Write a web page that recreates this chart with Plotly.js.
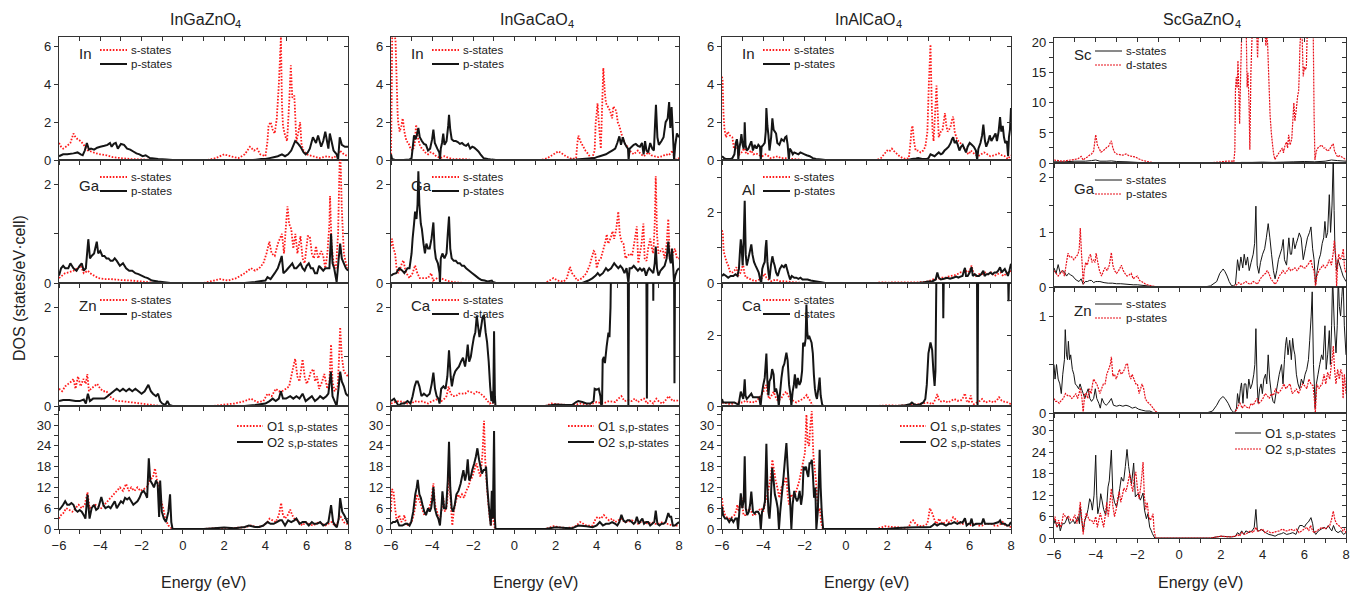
<!DOCTYPE html>
<html><head><meta charset="utf-8">
<script src="https://cdn.plot.ly/plotly-3.0.1.min.js"></script>
<style>html,body{margin:0;padding:0;background:#fff;}#chart{width:1358px;height:595px;}</style>
</head><body><div id="chart"></div>
<script>
// ---------- DATA (pairs: energy eV, DOS) ----------
const compounds = [['InGaZnO','4'],['InGaCaO','4'],['InAlCaO','4'],['ScGaZnO','4']];
const energyTicks = [-6,-4,-2,0,2,4,6,8];

// InGaZnO4
const IGZ_In_s=[-6,0.9,-5.9,0.7,-5.8,0.6,-5.6,0.75,-5.45,0.9,-5.3,1.4,-5.2,1.2,-5.1,1.1,-4.95,1.0,-4.8,0.8,-4.6,0.5,-4.45,0.45,-4.2,0.35,-4.0,0.3,-3.7,0.25,-3.4,0.15,-3.0,0.1,-2.5,0.05,-2.0,0.03,-1.5,0.01,-1.0,0,1.2,0,1.6,0.1,2.0,0.3,2.3,0.2,2.7,0.1,3.0,0.3,3.25,0.7,3.45,0.5,3.6,0.6,3.75,0.3,4.0,0.2,4.1,1.0,4.15,1.8,4.25,2.0,4.35,1.6,4.45,1.4,4.55,2.2,4.65,4.0,4.75,6.5,4.8,3.0,4.85,1.8,4.95,1.3,5.05,1.0,5.15,3.0,5.23,5.0,5.3,3.3,5.4,3.4,5.5,1.0,5.6,1.5,5.68,2.0,5.75,0.8,5.85,0.5,6.0,0.3,6.3,0.2,6.6,0.1,7.0,0.2,7.3,0.1,7.5,0.3,7.6,0.5,7.8,0.3,8.0,0.2];
const IGZ_In_p=[-6,0.2,-5.8,0.3,-5.6,0.3,-5.3,0.35,-5.1,0.4,-4.95,0.3,-4.85,0.25,-4.75,0.5,-4.65,0.9,-4.55,0.55,-4.45,0.6,-4.3,0.55,-4.15,0.65,-4.0,0.7,-3.8,0.75,-3.65,0.8,-3.53,0.9,-3.45,0.7,-3.35,0.85,-3.25,0.9,-3.15,0.6,-3.0,0.85,-2.85,0.8,-2.7,0.6,-2.55,0.55,-2.4,0.45,-2.25,0.35,-2.1,0.3,-1.95,0.2,-1.8,0.25,-1.6,0.1,-1.4,0.08,-1.2,0.05,-0.8,0.02,-0.5,0,3.4,0,3.8,0.05,4.0,0.05,4.2,0.1,4.4,0.15,4.6,0.2,4.8,0.3,4.95,0.2,5.1,0.3,5.25,0.5,5.44,1.0,5.55,0.9,5.7,0.7,5.85,0.4,5.95,0.3,6.05,0.4,6.15,0.6,6.3,1.2,6.45,0.9,6.55,1.3,6.7,0.7,6.8,1.0,6.9,1.5,7.0,0.9,7.05,0.6,7.12,1.4,7.2,1.0,7.3,0.5,7.45,0.3,7.52,0.0,7.6,1.2,7.7,0.8,7.85,0.7,8.0,0.7];
const IGZ_Ga_s=[-6,0.1,-5.85,0.15,-5.7,0.2,-5.5,0.22,-5.3,0.25,-5.1,0.3,-4.95,0.35,-4.8,0.2,-4.6,0.25,-4.5,0.2,-4.3,0.15,-4.1,0.1,-3.8,0.08,-3.5,0.08,-3.0,0.06,-2.5,0.05,-2.0,0.03,-1.5,0.01,-1.2,0,1.0,0,1.5,0.05,1.8,0.08,2.2,0.05,2.6,0.1,3.0,0.2,3.3,0.3,3.5,0.25,3.7,0.3,3.9,0.4,4.05,0.6,4.19,0.84,4.3,0.6,4.45,0.55,4.6,0.8,4.8,1.0,4.9,0.6,5.0,1.2,5.07,1.56,5.15,1.2,5.25,1.1,5.35,0.7,5.45,1.0,5.55,0.6,5.7,0.95,5.8,0.5,5.9,0.4,6.05,0.95,6.15,0.95,6.25,0.6,6.35,0.5,6.45,0.75,6.55,0.5,6.7,0.65,6.8,0.55,6.9,0.3,7.0,0.6,7.1,1.2,7.13,1.77,7.2,0.8,7.3,0.4,7.42,0.3,7.52,1.0,7.58,2.2,7.62,2.8,7.7,1.5,7.8,0.6,7.9,0.4,8.0,0.3];
const IGZ_Ga_p=[-6,0.15,-5.9,0.3,-5.8,0.35,-5.7,0.3,-5.55,0.3,-5.45,0.4,-5.3,0.3,-5.15,0.25,-5.0,0.35,-4.9,0.4,-4.8,0.25,-4.7,0.3,-4.58,0.89,-4.5,0.5,-4.42,0.55,-4.3,0.6,-4.17,0.84,-4.1,0.6,-4.0,0.65,-3.9,0.55,-3.8,0.55,-3.7,0.5,-3.6,0.5,-3.5,0.45,-3.4,0.45,-3.3,0.5,-3.2,0.45,-3.05,0.35,-2.9,0.4,-2.75,0.3,-2.6,0.25,-2.45,0.25,-2.3,0.2,-2.15,0.18,-2.0,0.15,-1.85,0.12,-1.7,0.1,-1.5,0.05,-1.2,0.03,-1.0,0.02,-0.6,0,3.0,0,3.5,0.02,3.8,0.04,4.0,0.05,4.1,0.12,4.25,0.08,4.45,0.2,4.6,0.3,4.72,0.45,4.79,0.55,4.87,0.2,5.0,0.25,5.1,0.3,5.2,0.35,5.3,0.4,5.4,0.3,5.5,0.3,5.6,0.35,5.7,0.4,5.8,0.3,5.9,0.25,6.0,0.35,6.1,0.4,6.2,0.3,6.3,0.3,6.4,0.2,6.5,0.2,6.6,0.35,6.7,0.3,6.8,0.25,6.9,0.3,7.0,0.3,7.1,0.3,7.18,1.0,7.25,0.4,7.33,0.3,7.45,0.02,7.55,0.5,7.62,0.8,7.7,0.5,7.8,0.4,7.9,0.3,8.0,0.25];
const IGZ_Zn_s=[-6,0.35,-5.85,0.3,-5.7,0.4,-5.55,0.45,-5.4,0.5,-5.3,0.55,-5.2,0.35,-5.08,0.6,-4.95,0.4,-4.82,0.55,-4.7,0.45,-4.63,0.65,-4.55,0.3,-4.45,0.35,-4.3,0.4,-4.15,0.45,-4.0,0.35,-3.85,0.3,-3.7,0.3,-3.55,0.2,-3.4,0.15,-3.2,0.1,-3.0,0.1,-2.6,0.08,-2.0,0.05,-1.5,0.02,-1.0,0,1.5,0,2.0,0.03,2.5,0.05,3.0,0.1,3.3,0.15,3.6,0.08,3.9,0.1,4.1,0.25,4.3,0.2,4.5,0.35,4.65,0.3,4.8,0.3,5.0,0.35,5.15,0.4,5.3,0.7,5.44,0.96,5.55,0.6,5.65,0.5,5.8,0.95,5.9,0.6,6.0,0.45,6.1,0.55,6.2,0.7,6.33,0.75,6.4,0.5,6.5,0.6,6.6,0.35,6.75,0.5,6.85,0.65,7.0,0.35,7.1,0.5,7.18,1.25,7.25,0.5,7.35,0.3,7.5,0.4,7.56,0.9,7.62,1.6,7.7,1.0,7.8,0.7,8.0,0.6];
const IGZ_Zn_p=[-6,0.1,-5.8,0.12,-5.5,0.12,-5.2,0.1,-5.0,0.1,-4.8,0.13,-4.7,0.05,-4.6,0.25,-4.5,0.1,-4.35,0.15,-4.2,0.15,-4.0,0.15,-3.8,0.15,-3.65,0.2,-3.5,0.25,-3.35,0.3,-3.2,0.35,-3.05,0.3,-2.9,0.35,-2.75,0.3,-2.6,0.35,-2.45,0.3,-2.3,0.35,-2.15,0.3,-2.0,0.25,-1.85,0.3,-1.67,0.43,-1.55,0.3,-1.45,0.25,-1.3,0.2,-1.2,0.25,-1.1,0.1,-1.0,0.05,-0.85,0.02,-0.75,0.1,-0.65,0.02,-0.5,0,3.0,0,3.5,0.02,4.0,0.05,4.2,0.1,4.35,0.15,4.5,0.1,4.65,0.15,4.75,0.3,4.85,0.15,5.0,0.15,5.2,0.2,5.35,0.15,5.5,0.2,5.65,0.15,5.8,0.25,5.95,0.1,6.1,0.15,6.25,0.2,6.4,0.1,6.55,0.15,6.65,0.2,6.8,0.15,6.95,0.2,7.05,0.25,7.17,0.7,7.25,0.2,7.35,0.1,7.45,0.0,7.55,0.4,7.62,0.7,7.7,0.5,7.8,0.4,7.9,0.25,8.0,0.2];
const IGZ_O1=[-6,3,-5.9,4,-5.8,4.5,-5.65,6,-5.5,5.5,-5.35,5,-5.2,6,-5.05,7,-4.9,6,-4.75,7,-4.62,10.6,-4.52,6,-4.4,6.5,-4.25,7,-4.1,6.5,-3.95,6,-3.8,7,-3.65,8,-3.5,9,-3.35,10,-3.2,11,-3.05,12,-2.9,11,-2.75,13,-2.62,11,-2.5,12,-2.35,11,-2.2,12,-2.05,11,-1.9,11.5,-1.75,12,-1.6,14,-1.45,15,-1.35,17.5,-1.25,14,-1.15,12,-1.05,8,-0.95,6,-0.85,3,-0.7,1,-0.55,0.2,-0.45,0,1.0,0,1.5,0.2,2.0,0.3,2.5,0.3,3.0,0.5,3.3,1.0,3.6,0.5,3.9,1.0,4.1,2.0,4.2,3.0,4.35,2.5,4.5,2.0,4.65,4.0,4.76,7.5,4.85,4.0,4.95,3.0,5.08,4.0,5.2,5.6,5.3,4.0,5.4,3.0,5.55,2.5,5.7,1.5,5.8,1.0,5.95,2.0,6.1,1.5,6.3,1.0,6.45,1.5,6.6,2.0,6.75,1.5,6.9,1.0,7.05,1.5,7.2,2.0,7.35,1.0,7.48,1.5,7.6,4.0,7.7,3.0,7.8,2.0,7.9,1.5,8.0,1.5];
const IGZ_O2=[-6,5.5,-5.92,6,-5.8,7,-5.7,8,-5.6,7,-5.5,7,-5.4,7.5,-5.3,7,-5.2,5.5,-5.1,5,-5.0,5.5,-4.9,5,-4.8,4,-4.72,3,-4.62,9.9,-4.52,3,-4.42,6,-4.3,7,-4.2,5.5,-4.1,6,-3.95,9.2,-3.85,7,-3.75,6,-3.6,6.5,-3.5,6,-3.4,7,-3.3,8,-3.2,6,-3.1,7,-3.0,8,-2.9,7.5,-2.8,9,-2.7,8.5,-2.6,9,-2.5,8,-2.4,7,-2.3,7.5,-2.2,8,-2.1,9,-2.0,10.5,-1.9,11,-1.8,10,-1.73,9,-1.65,20.4,-1.58,14,-1.48,13,-1.4,12,-1.3,14,-1.22,13,-1.15,3.5,-1.1,14,-1.02,5,-0.92,3,-0.82,2,-0.7,5,-0.62,10,-0.56,2,-0.5,0,1.0,0,1.5,0.2,2.0,0.4,2.5,0.2,3.0,0.6,3.2,1.0,3.5,0.6,3.7,0.6,3.9,1.0,4.1,2.0,4.25,1.5,4.4,1.5,4.55,2.0,4.7,2.5,4.8,2.5,4.95,1.0,5.1,2.5,5.25,2.0,5.4,2.5,5.5,3.0,5.65,1.5,5.8,2.0,5.95,2.0,6.1,1.0,6.25,2.0,6.35,1.5,6.5,1.5,6.65,2.0,6.8,1.0,6.95,1.5,7.05,2.0,7.18,6.9,7.28,2.0,7.38,1.0,7.46,0.5,7.55,3.0,7.62,8.9,7.72,5.0,7.82,4.0,7.9,3.0,8.0,1.5];

// InGaCaO4
const IGC_In_s=[-6,0.3,-5.97,3.0,-5.94,6.8,-5.85,6.8,-5.78,6.3,-5.72,4.0,-5.68,2.5,-5.65,2.0,-5.58,1.5,-5.5,1.8,-5.43,2.2,-5.35,1.5,-5.25,1.0,-5.15,0.9,-5.05,0.6,-4.95,0.5,-4.85,0.8,-4.78,1.87,-4.7,1.2,-4.6,0.8,-4.5,0.6,-4.4,0.5,-4.3,0.35,-4.2,0.3,-4.1,0.4,-4.0,0.4,-3.9,0.3,-3.8,0.2,-3.6,0.1,-3.4,0.2,-3.3,0.15,-3.0,0.05,-2.5,0.05,-2.0,0,1.3,0,1.6,0.1,1.9,0.3,2.14,0.46,2.3,0.35,2.5,0.2,2.8,0.05,3.0,0.1,3.05,0.8,3.11,1.29,3.2,1.0,3.3,0.8,3.45,0.5,3.6,0.3,3.75,0.02,3.9,0.5,3.95,2.0,4.0,2.48,4.04,3.0,4.1,2.0,4.2,0.6,4.27,3.0,4.32,4.86,4.4,3.5,4.45,3.0,4.55,2.8,4.65,2.6,4.75,2.2,4.81,2.83,4.88,2.7,4.95,2.6,5.02,2.0,5.1,1.8,5.25,1.2,5.4,0.8,5.5,0.7,5.6,0.5,5.8,0.3,6.0,0.5,6.15,0.3,6.3,0.2,6.5,0.4,6.65,0.25,6.8,0.2,7.0,0.15,7.2,0.2,7.35,0.3,7.5,0.25,7.7,0.5,7.78,0.0,7.9,0.05,8.0,0.1];
const IGC_In_p=[-6,0.3,-5.95,0.05,-5.8,0.0,-5.4,0.0,-5.1,0.02,-5.0,0.1,-4.93,0.8,-4.88,1.3,-4.8,1.1,-4.75,1.3,-4.67,1.69,-4.6,1.2,-4.5,1.0,-4.4,0.85,-4.3,0.8,-4.2,0.5,-4.1,0.6,-4.0,1.1,-3.94,1.6,-3.87,0.9,-3.75,0.6,-3.65,0.4,-3.62,0.0,-3.58,0.6,-3.52,0.9,-3.46,1.4,-3.4,0.8,-3.3,1.0,-3.22,1.8,-3.18,2.39,-3.12,1.6,-3.05,1.1,-2.95,1.0,-2.85,1.0,-2.75,0.95,-2.65,0.85,-2.55,0.9,-2.45,0.8,-2.35,0.75,-2.25,0.85,-2.15,0.6,-2.05,0.7,-1.95,0.65,-1.85,0.55,-1.75,0.45,-1.65,0.3,-1.5,0.1,-1.3,0.05,-1.1,0.02,-0.9,0,2.5,0,3.0,0.02,3.3,0.05,3.6,0.08,3.9,0.1,4.0,0.15,4.15,0.2,4.3,0.25,4.45,0.3,4.6,0.4,4.75,0.5,4.9,0.6,5.0,0.9,5.1,1.25,5.18,0.8,5.27,1.2,5.35,0.9,5.45,0.7,5.52,0.6,5.55,0.0,5.6,0.6,5.7,0.7,5.8,0.8,5.9,0.85,6.0,0.75,6.1,0.7,6.2,0.9,6.28,0.3,6.35,1.0,6.42,0.5,6.5,0.4,6.6,0.9,6.7,0.6,6.78,0.5,6.84,2.0,6.88,2.92,6.95,1.2,7.02,0.8,7.15,1.0,7.25,1.2,7.35,2.0,7.45,2.2,7.52,3.06,7.58,1.7,7.64,2.8,7.7,1.5,7.76,0.0,7.82,0.8,7.9,1.4,7.95,1.3,8.0,1.2];
const IGC_Ga_s=[-6,0.75,-5.95,0.9,-5.88,0.7,-5.8,0.6,-5.73,0.3,-5.65,0.2,-5.55,0.3,-5.47,0.4,-5.4,0.46,-5.32,0.3,-5.25,0.2,-5.1,0.1,-4.95,0.2,-4.83,0.36,-4.72,0.2,-4.6,0.1,-4.4,0.1,-4.2,0.1,-4.05,0.2,-3.95,0.05,-3.75,0.1,-3.6,0.1,-3.3,0.05,-3.0,0.02,-2.5,0,1.5,0,1.9,0.1,2.1,0.05,2.4,0.03,2.55,0.1,2.7,0.33,2.8,0.2,2.9,0.15,3.05,0.05,3.3,0.1,3.5,0.2,3.65,0.35,3.75,0.5,3.85,0.65,3.92,0.63,4.0,0.3,4.1,0.45,4.2,0.5,4.3,0.65,4.4,0.8,4.49,0.99,4.55,0.8,4.62,0.85,4.7,0.95,4.77,1.05,4.85,0.9,4.95,1.1,5.05,1.45,5.12,1.0,5.2,0.85,5.3,0.8,5.4,0.5,5.5,0.55,5.62,0.6,5.72,0.55,5.82,0.8,5.95,1.15,6.02,0.4,6.1,0.6,6.18,0.8,6.27,1.21,6.33,0.5,6.42,0.45,6.5,0.7,6.6,0.9,6.68,0.7,6.75,0.6,6.82,1.2,6.87,2.17,6.93,1.0,7.0,0.6,7.1,0.65,7.2,0.7,7.3,0.5,7.4,0.8,7.48,1.3,7.55,0.5,7.62,0.4,7.7,0.6,7.8,0.7,7.9,0.5,8.0,0.5];
const IGC_Ga_p=[-6,0.15,-5.9,0.18,-5.75,0.2,-5.6,0.3,-5.45,0.25,-5.35,0.2,-5.2,0.3,-5.1,0.3,-5.0,0.6,-4.95,0.9,-4.88,1.2,-4.83,1.45,-4.76,1.3,-4.71,1.6,-4.67,2.27,-4.62,1.6,-4.55,1.2,-4.5,1.1,-4.42,0.8,-4.35,0.6,-4.28,0.8,-4.2,0.7,-4.12,0.7,-4.03,0.9,-3.94,1.23,-3.88,0.7,-3.82,0.5,-3.72,0.4,-3.64,0.2,-3.62,0.0,-3.58,0.5,-3.5,0.6,-3.4,0.5,-3.3,0.6,-3.24,1.0,-3.18,1.35,-3.12,0.7,-3.05,0.5,-2.95,0.45,-2.85,0.45,-2.75,0.4,-2.65,0.4,-2.55,0.35,-2.45,0.35,-2.35,0.3,-2.2,0.25,-2.05,0.2,-1.9,0.15,-1.75,0.1,-1.6,0.06,-1.45,0.05,-1.3,0.03,-1.1,0.05,-1.05,0.02,-0.9,0,3.3,0,3.6,0.05,3.8,0.1,3.95,0.15,4.05,0.2,4.15,0.15,4.3,0.2,4.45,0.3,4.55,0.25,4.7,0.3,4.85,0.4,4.95,0.35,5.05,0.3,5.15,0.35,5.25,0.3,5.35,0.2,5.45,0.3,5.54,0.0,5.6,0.3,5.7,0.3,5.8,0.35,5.9,0.3,6.0,0.25,6.1,0.3,6.2,0.25,6.3,0.3,6.4,0.15,6.48,0.25,6.55,0.3,6.65,0.25,6.75,0.2,6.82,0.4,6.87,0.74,6.93,0.3,7.0,0.15,7.1,0.25,7.2,0.3,7.3,0.35,7.4,0.5,7.48,0.84,7.55,0.5,7.6,0.4,7.66,0.7,7.72,0.3,7.76,0.0,7.82,0.15,7.9,0.25,8.0,0.3];
const IGC_Ca_s=[-6,0.05,-5.8,0.08,-5.6,0.1,-5.4,0.08,-5.2,0.05,-5.0,0.05,-4.85,0.1,-4.7,0.08,-4.55,0.1,-4.4,0.08,-4.2,0.05,-4.0,0.1,-3.85,0.12,-3.7,0.15,-3.55,0.1,-3.4,0.15,-3.3,0.2,-3.2,0.4,-3.1,0.25,-3.0,0.2,-2.85,0.2,-2.7,0.25,-2.55,0.25,-2.4,0.25,-2.25,0.3,-2.1,0.28,-1.95,0.25,-1.8,0.3,-1.65,0.25,-1.5,0.2,-1.4,0.15,-1.3,0.1,-1.2,0.05,-1.1,0.08,-1.0,0.05,-0.9,0,1.5,0,1.8,0.05,2.2,0.03,2.6,0.02,3.0,0.03,3.2,0.05,3.5,0.03,3.8,0.05,4.0,0.08,4.3,0.05,4.6,0.1,4.9,0.08,5.05,0.15,5.2,0.2,5.35,0.1,5.5,0.12,5.7,0.1,5.85,0.15,6.0,0.08,6.15,0.12,6.3,0.15,6.45,0.05,6.6,0.1,6.75,0.05,6.9,0.15,7.05,0.08,7.2,0.05,7.35,0.12,7.5,0.2,7.6,0.15,7.7,0.1,7.85,0.12,8.0,0.1];
const IGC_Ca_d=[-6,0.1,-5.85,0.15,-5.7,0.05,-5.62,0.0,-5.5,0.05,-5.35,0.05,-5.2,0.1,-5.05,0.05,-4.95,0.2,-4.85,0.4,-4.77,0.5,-4.7,0.5,-4.62,0.4,-4.52,0.2,-4.4,0.25,-4.25,0.2,-4.12,0.25,-4.02,0.45,-3.94,0.68,-3.86,0.35,-3.78,0.2,-3.7,0.15,-3.64,0.05,-3.56,0.35,-3.45,0.4,-3.35,0.35,-3.26,0.6,-3.18,1.13,-3.1,0.6,-3.04,0.4,-2.96,0.6,-2.88,0.7,-2.8,0.75,-2.7,0.8,-2.6,0.9,-2.5,0.98,-2.4,0.8,-2.33,1.0,-2.27,1.25,-2.2,0.9,-2.12,1.0,-2.05,1.2,-1.97,1.4,-1.9,1.5,-1.83,1.83,-1.76,1.6,-1.7,1.4,-1.62,1.6,-1.55,1.8,-1.48,1.85,-1.4,1.5,-1.33,1.3,-1.25,0.9,-1.18,0.4,-1.12,0.1,-1.07,0.3,-1.03,0.05,-0.99,1.52,-0.95,0.2,-0.92,0,1.5,0,2.0,0.03,2.5,0.02,2.8,0.02,3.0,0.08,3.1,0.1,3.3,0.08,3.5,0.05,3.7,0.05,3.85,0.1,3.9,0.35,4.0,0.33,4.1,0.35,4.18,0.2,4.22,0.0,4.26,0.05,4.29,0.94,4.35,1.0,4.4,0.87,4.48,1.2,4.57,1.49,4.62,1.4,4.67,2.0,4.72,3.5,5.0,4.0,5.5,4.0,5.54,0.0,5.58,4.0,6.4,4.0,6.44,0.15,6.48,4.0,6.72,4.0,6.75,2.14,6.78,4.0,7.75,4.0,7.78,0.46,7.82,4.0,8.0,4.0];
const IGC_O1=[-6,5,-5.96,11.5,-5.88,11,-5.8,6,-5.72,2,-5.6,4,-5.5,2,-5.4,3,-5.35,4,-5.25,1,-5.1,1.5,-5.0,2,-4.9,4,-4.8,7,-4.75,10,-4.68,9,-4.6,8,-4.5,6,-4.38,4,-4.25,5,-4.15,6,-4.05,8,-3.94,13.2,-3.86,7,-3.76,5,-3.65,2,-3.55,5,-3.46,9,-3.38,5,-3.28,7,-3.18,16,-3.1,8,-3.02,1,-2.95,5,-2.85,8,-2.75,10,-2.65,9,-2.55,10,-2.45,9,-2.35,11,-2.25,12,-2.15,14,-2.05,15,-1.95,17,-1.85,19,-1.75,17,-1.65,15,-1.55,22,-1.48,31.2,-1.42,20,-1.36,14,-1.28,8,-1.2,3,-1.14,1,-1.07,5,-1.0,2,-0.95,0,1.5,0,1.9,0.8,2.2,0.5,2.5,0.3,2.9,0.5,3.2,2.0,3.5,1.0,3.8,1.0,3.95,3.0,4.05,3.5,4.2,3.0,4.35,4.0,4.5,3.0,4.6,2.5,4.75,3.0,4.9,2.0,5.05,2.5,5.2,3.0,5.35,2.0,5.5,2.0,5.7,2.5,5.85,2.0,6.0,1.5,6.15,2.0,6.3,2.0,6.5,1.5,6.65,2.0,6.85,1.5,7.0,1.5,7.2,2.0,7.35,1.5,7.5,1.5,7.65,1.0,7.8,1.0,8.0,1.0];
const IGC_O2=[-6,1.5,-5.9,2,-5.8,2,-5.7,2.5,-5.6,1,-5.45,1,-5.3,1.5,-5.2,1.5,-5.1,1,-5.02,2,-4.92,5,-4.82,10,-4.75,12,-4.7,14.2,-4.62,10,-4.55,9,-4.47,7,-4.38,5,-4.3,4,-4.2,6,-4.12,5,-4.05,6,-3.98,9,-3.94,12.1,-3.87,6,-3.78,4,-3.7,3,-3.62,1,-3.55,6,-3.5,10.9,-3.42,6,-3.32,6,-3.24,14,-3.18,25.2,-3.12,12,-3.05,6,-2.98,5,-2.9,7,-2.82,10,-2.72,11,-2.62,13,-2.55,15,-2.48,17,-2.4,14,-2.33,16,-2.27,20.1,-2.2,14,-2.12,15,-2.05,17,-1.95,19,-1.87,21,-1.8,23.3,-1.72,20,-1.65,18,-1.58,16,-1.5,17,-1.42,17,-1.38,18,-1.32,12,-1.25,7,-1.2,4,-1.15,1,-1.1,11,-1.05,3,-0.99,28.3,-0.95,3,-0.92,0,1.5,0,2.0,0.5,2.5,0.3,2.8,0.2,3.1,1.0,3.5,0.8,3.8,0.5,4.0,1.0,4.15,2.0,4.3,1.0,4.45,1.5,4.6,1.5,4.75,2.0,4.9,1.5,5.0,1.0,5.1,2.0,5.2,4.1,5.3,2.5,5.4,2.0,5.5,2.5,5.6,2.5,5.7,2.0,5.8,1.5,5.88,2.0,5.95,3.5,6.05,1.5,6.15,2.5,6.22,3.0,6.3,1.5,6.4,2.0,6.5,2.0,6.6,1.0,6.7,1.5,6.8,2.0,6.87,5.3,6.95,1.5,7.05,1.0,7.15,1.5,7.25,1.5,7.35,2.0,7.48,4.6,7.55,3.5,7.62,3.5,7.7,1.0,7.8,1.0,7.9,1.5,8.0,2.0];

// InAlCaO4
const IAC_In_s=[-6,4.4,-5.97,4.2,-5.93,2.5,-5.88,1.6,-5.8,1.2,-5.72,1.5,-5.62,1.3,-5.5,1.2,-5.42,0.6,-5.33,0.9,-5.25,0.6,-5.15,0.3,-5.05,0.4,-4.98,0.5,-4.92,0.8,-4.85,0.4,-4.78,0.3,-4.68,0.4,-4.58,0.5,-4.48,0.3,-4.35,0.35,-4.2,0.25,-4.05,0.2,-3.9,0.3,-3.8,0.25,-3.65,0.1,-3.45,0.15,-3.3,0.2,-3.15,0.1,-3.0,0.1,-2.5,0.05,-2.0,0,1.5,0,1.7,0.1,1.85,0.3,2.0,0.5,2.1,0.45,2.23,0.6,2.35,0.45,2.45,0.35,2.6,0.2,2.75,0.1,2.9,0.05,3.05,0.1,3.12,0.8,3.18,1.6,3.23,1.81,3.3,1.0,3.38,0.5,3.5,0.5,3.62,0.4,3.75,0.5,3.85,0.7,3.95,1.5,4.02,4.0,4.1,6.1,4.16,3.0,4.2,1.5,4.25,1.0,4.3,2.0,4.35,3.0,4.39,3.93,4.45,2.5,4.5,1.2,4.6,1.5,4.68,1.6,4.74,2.0,4.8,2.48,4.87,1.8,4.93,1.5,5.0,1.6,5.08,1.8,5.14,2.1,5.2,2.3,5.27,1.5,5.35,1.2,5.45,1.0,5.55,0.9,5.65,0.7,5.75,0.6,5.85,0.4,5.95,0.3,6.05,0.5,6.15,0.4,6.25,0.3,6.4,0.2,6.55,0.3,6.7,0.4,6.85,0.3,7.0,0.2,7.2,0.25,7.4,0.35,7.55,0.25,7.7,0.2,7.85,0.05,8.0,0.25];
const IAC_In_p=[-6,0.2,-5.9,0.1,-5.8,0.05,-5.6,0.05,-5.5,0.1,-5.4,0.3,-5.33,0.9,-5.28,1.1,-5.24,0.8,-5.21,0.0,-5.16,0.6,-5.1,1.0,-5.06,1.37,-5.0,0.8,-4.95,0.6,-4.92,1.0,-4.9,1.99,-4.86,0.8,-4.8,0.5,-4.72,0.6,-4.65,0.8,-4.58,0.99,-4.5,0.5,-4.42,0.8,-4.33,0.6,-4.24,0.8,-4.16,0.7,-4.12,0.0,-4.08,0.7,-4.0,0.8,-3.93,0.9,-3.88,1.5,-3.85,2.75,-3.8,1.8,-3.75,1.3,-3.7,0.5,-3.62,1.2,-3.56,2.2,-3.5,1.6,-3.44,1.5,-3.38,1.4,-3.32,0.9,-3.22,0.8,-3.12,1.1,-3.0,1.0,-2.94,1.2,-2.88,1.25,-2.82,0.8,-2.76,0.0,-2.72,0.6,-2.65,0.5,-2.57,0.3,-2.5,0.4,-2.4,0.35,-2.3,0.3,-2.2,0.4,-2.1,0.35,-2.0,0.3,-1.9,0.25,-1.75,0.2,-1.6,0.1,-1.45,0.05,-1.2,0.03,-1.0,0,3.0,0,3.2,0.05,3.4,0.08,3.5,0.1,3.7,0.05,3.9,0.05,4.0,0.1,4.1,0.3,4.2,0.25,4.3,0.2,4.4,0.3,4.5,0.4,4.6,0.3,4.68,0.35,4.78,0.5,4.88,0.6,4.98,0.7,5.08,0.9,5.14,1.1,5.2,1.2,5.27,0.9,5.35,1.0,5.42,0.8,5.5,0.5,5.58,0.7,5.66,0.8,5.74,0.6,5.82,0.4,5.9,0.7,6.0,0.9,6.1,0.8,6.2,0.7,6.3,0.5,6.36,0.0,6.42,0.6,6.52,0.9,6.6,1.3,6.66,1.87,6.74,1.0,6.8,0.7,6.9,1.0,6.97,1.3,7.05,1.0,7.15,1.2,7.25,1.4,7.32,1.0,7.4,1.5,7.47,2.27,7.53,1.5,7.6,1.8,7.66,1.2,7.72,0.9,7.8,1.0,7.86,0.2,7.9,1.2,7.95,1.6,8.0,2.75];
const IAC_Al_s=[-6,1.5,-5.96,1.4,-5.92,0.9,-5.85,0.75,-5.78,0.6,-5.7,0.5,-5.6,0.3,-5.5,0.3,-5.4,0.35,-5.3,0.45,-5.22,0.2,-5.1,0.3,-5.04,0.4,-4.98,0.55,-4.92,0.3,-4.85,0.15,-4.75,0.15,-4.6,0.1,-4.4,0.05,-4.2,0.1,-4.05,0.15,-3.93,0.27,-3.85,0.15,-3.75,0.1,-3.6,0.05,-3.4,0.1,-3.2,0.05,-3.0,0.05,-2.5,0.02,-2.0,0,1.5,0,1.7,0.02,2.0,0.01,2.5,0.02,3.0,0.02,3.5,0.02,3.8,0.03,4.0,0.05,4.2,0.1,4.35,0.12,4.5,0.12,4.65,0.15,4.8,0.15,4.95,0.18,5.1,0.2,5.25,0.22,5.4,0.25,5.55,0.3,5.7,0.3,5.8,0.35,5.9,0.3,6.0,0.35,6.09,0.5,6.17,0.3,6.3,0.2,6.45,0.25,6.6,0.25,6.75,0.3,6.9,0.25,7.05,0.3,7.2,0.2,7.35,0.25,7.5,0.3,7.62,0.2,7.75,0.25,7.88,0.3,8.0,0.35];
const IAC_Al_p=[-6,0.2,-5.92,0.25,-5.8,0.2,-5.7,0.15,-5.58,0.2,-5.45,0.2,-5.35,0.25,-5.25,0.2,-5.18,0.4,-5.13,0.9,-5.09,1.24,-5.04,0.9,-5.0,0.5,-4.95,1.2,-4.9,2.34,-4.85,0.8,-4.8,0.5,-4.72,0.7,-4.65,0.9,-4.58,1.1,-4.52,0.8,-4.45,0.6,-4.38,0.5,-4.3,0.4,-4.22,0.3,-4.15,0.1,-4.1,0.0,-4.05,0.4,-4.0,0.5,-3.93,0.6,-3.89,1.0,-3.85,1.22,-3.8,0.6,-3.75,0.3,-3.7,0.1,-3.63,0.5,-3.56,0.76,-3.5,0.6,-3.45,0.5,-3.38,0.3,-3.3,0.2,-3.2,0.4,-3.1,0.5,-3.0,0.45,-2.91,0.53,-2.85,0.4,-2.78,0.25,-2.7,0.1,-2.62,0.2,-2.5,0.15,-2.4,0.15,-2.3,0.12,-2.2,0.15,-2.1,0.1,-2.0,0.1,-1.85,0.1,-1.7,0.07,-1.5,0.05,-1.2,0.02,-1.0,0,3.5,0,3.8,0.02,4.0,0.04,4.2,0.05,4.35,0.1,4.43,0.3,4.5,0.15,4.6,0.1,4.75,0.12,4.9,0.15,5.05,0.12,5.2,0.15,5.35,0.18,5.45,0.15,5.55,0.18,5.65,0.2,5.72,0.35,5.77,0.43,5.82,0.2,5.9,0.2,6.0,0.3,6.09,0.45,6.15,0.2,6.25,0.25,6.35,0.2,6.45,0.2,6.55,0.25,6.66,0.35,6.72,0.2,6.8,0.25,6.9,0.25,7.0,0.3,7.1,0.25,7.2,0.3,7.3,0.3,7.38,0.35,7.47,0.45,7.55,0.3,7.62,0.35,7.7,0.4,7.78,0.3,7.85,0.2,7.92,0.35,8.0,0.55];
const IAC_Ca_s=[-6,0.1,-5.8,0.08,-5.6,0.05,-5.4,0.08,-5.2,0.1,-5.0,0.1,-4.85,0.15,-4.7,0.1,-4.55,0.12,-4.4,0.1,-4.25,0.2,-4.1,0.3,-4.0,0.4,-3.93,0.53,-3.85,0.6,-3.78,0.3,-3.7,0.2,-3.6,0.3,-3.5,0.4,-3.4,0.25,-3.3,0.15,-3.15,0.2,-3.0,0.35,-2.88,0.41,-2.8,0.3,-2.7,0.2,-2.55,0.15,-2.4,0.1,-2.25,0.15,-2.1,0.2,-1.98,0.25,-1.9,0.31,-1.8,0.2,-1.72,0.15,-1.65,0.05,-1.6,0.0,1.5,0,2.0,0.02,2.5,0.01,3.0,0.02,3.5,0.05,3.8,0.08,4.0,0.1,4.2,0.05,4.35,0.2,4.43,0.34,4.52,0.15,4.65,0.12,4.8,0.15,4.95,0.1,5.1,0.15,5.25,0.2,5.4,0.15,5.55,0.15,5.65,0.2,5.77,0.36,5.85,0.15,5.95,0.1,6.05,0.3,6.12,0.1,6.2,0.05,6.35,0.1,6.5,0.15,6.6,0.2,6.75,0.1,6.9,0.12,7.0,0.15,7.15,0.1,7.3,0.15,7.42,0.25,7.55,0.15,7.7,0.12,7.85,0.1,8.0,0.05];
const IAC_Ca_d=[-6,0.2,-5.95,0.1,-5.8,0.1,-5.6,0.1,-5.4,0.1,-5.25,0.05,-5.2,0.0,-5.15,0.2,-5.09,0.41,-5.03,0.3,-4.97,0.2,-4.93,0.5,-4.9,0.76,-4.86,0.3,-4.8,0.2,-4.72,0.25,-4.65,0.3,-4.58,0.35,-4.5,0.25,-4.4,0.25,-4.3,0.25,-4.2,0.25,-4.13,0.0,-4.08,0.3,-4.0,0.6,-3.93,0.8,-3.85,1.49,-3.8,0.7,-3.75,0.3,-3.7,0.7,-3.63,0.8,-3.57,1.05,-3.5,0.9,-3.45,0.4,-3.38,0.5,-3.3,0.3,-3.25,0.0,-3.2,0.3,-3.12,0.8,-3.05,1.1,-2.98,1.2,-2.92,1.4,-2.88,1.52,-2.82,1.3,-2.75,0.6,-2.68,0.3,-2.64,0.0,-2.58,0.4,-2.52,0.6,-2.47,0.9,-2.4,0.5,-2.33,0.8,-2.25,0.6,-2.18,0.7,-2.12,1.0,-2.07,1.8,-2.0,1.7,-1.95,1.9,-1.91,2.89,-1.87,2.1,-1.83,1.9,-1.78,2.0,-1.72,1.9,-1.66,1.8,-1.6,1.5,-1.55,0.9,-1.5,0.5,-1.45,0.3,-1.4,0.2,-1.33,0.5,-1.27,0.81,-1.22,0.3,-1.15,0.05,-1.1,0,2.5,0,2.9,0.02,3.1,0.05,3.2,0.1,3.3,0.05,3.45,0.02,3.6,0.05,3.75,0.1,3.85,0.2,3.92,0.6,4.0,1.5,4.1,1.81,4.18,1.6,4.24,1.0,4.3,0.57,4.34,1.0,4.39,4.0,4.7,4.0,4.72,2.5,4.75,4.0,6.35,4.0,6.38,0.0,6.41,4.0,7.85,4.0,7.88,2.98,7.92,4.0,8.0,4.0];
const IAC_O1=[-6,8.9,-5.95,6,-5.85,4,-5.72,3,-5.6,3,-5.5,3.5,-5.4,4,-5.3,5.5,-5.26,7,-5.18,5,-5.1,8,-5.04,9,-4.96,4,-4.85,4,-4.75,5,-4.68,6,-4.58,5,-4.5,4,-4.4,4,-4.3,5,-4.2,5.5,-4.1,6,-4.0,5,-3.9,8,-3.8,10,-3.7,13,-3.62,16,-3.56,20,-3.48,17,-3.4,14,-3.32,12,-3.22,9,-3.12,12,-3.0,13,-2.94,14,-2.88,15,-2.82,10,-2.75,7,-2.65,10,-2.55,9,-2.45,10,-2.35,12,-2.25,14,-2.15,17,-2.05,20,-1.98,22,-1.91,33,-1.85,25,-1.78,24,-1.72,30,-1.65,34,-1.58,22,-1.52,18,-1.45,14,-1.38,8,-1.32,5,-1.26,6,-1.2,2,-1.12,0,1.5,0,1.9,0.8,2.2,0.6,2.5,0.5,2.8,0.3,3.05,0.5,3.15,2.0,3.26,2.5,3.38,1.5,3.5,1.0,3.65,0.8,3.8,1.0,3.95,1.5,4.02,4.0,4.07,6.0,4.15,5.0,4.22,4.0,4.3,2.5,4.38,1.5,4.45,2.0,4.52,3.0,4.6,2.0,4.7,1.5,4.82,2.0,4.9,2.5,4.98,2.0,5.05,2.0,5.12,2.5,5.2,3.4,5.28,3.0,5.36,2.5,5.45,2.0,5.55,1.5,5.68,1.5,5.8,2.0,5.92,1.5,6.0,1.0,6.15,1.5,6.3,1.5,6.45,1.0,6.6,1.0,6.75,1.5,6.9,1.5,7.05,1.5,7.2,1.0,7.38,1.0,7.5,1.5,7.6,2.0,7.72,1.0,7.85,1.0,8.0,0.5];
const IAC_O2=[-6,6.5,-5.95,4,-5.85,3,-5.75,3,-5.65,2,-5.55,3,-5.45,2,-5.35,3,-5.27,3,-5.22,0,-5.16,5,-5.09,10.3,-5.02,6,-4.95,8,-4.9,21,-4.85,6,-4.78,4,-4.7,5,-4.64,7,-4.58,10.8,-4.5,5,-4.42,4.5,-4.35,5,-4.25,5,-4.17,4,-4.12,0,-4.06,5,-3.98,6,-3.92,8,-3.85,24.6,-3.8,12,-3.75,5,-3.7,3,-3.64,8,-3.57,17.7,-3.5,14,-3.44,10,-3.36,8,-3.3,6,-3.24,0,-3.18,5,-3.1,10,-3.02,15,-2.95,20,-2.88,24.8,-2.82,18,-2.76,12,-2.7,8,-2.64,0,-2.58,7,-2.5,11,-2.43,9,-2.36,8,-2.3,9,-2.24,11,-2.17,7,-2.1,10,-2.05,18,-1.99,17,-1.93,18,-1.87,16,-1.82,15,-1.76,19,-1.7,19,-1.65,20,-1.6,16,-1.54,9,-1.48,12,-1.43,0,-1.36,5,-1.3,15,-1.27,22.9,-1.22,12,-1.17,5,-1.1,0,2.0,0,2.5,0.3,3.0,0.4,3.5,0.5,3.9,0.5,4.1,0.6,4.2,1.0,4.3,1.5,4.42,1.0,4.55,1.5,4.7,1.5,4.85,1.0,4.98,1.5,5.1,1.5,5.25,2.0,5.4,1.5,5.55,2.0,5.65,1.8,5.77,3.1,5.85,1.0,5.95,1.5,6.02,1.5,6.09,3.0,6.16,1.0,6.3,1.5,6.45,1.5,6.58,1.5,6.66,3.0,6.74,1.5,6.85,1.5,7.0,1.5,7.15,1.5,7.3,1.8,7.4,2.0,7.47,2.5,7.55,1.5,7.7,1.5,7.8,1.0,7.9,1.0,8.0,2.0];

// ScGaZnO4
const SGZ_Sc_s=[-6,0.2,-5.5,0.2,-5.0,0.3,-4.5,0.3,-4.2,0.4,-4.0,0.5,-3.8,0.3,-3.5,0.3,-3.25,0.35,-3.0,0.25,-2.5,0.2,-2.0,0.1,-1.5,0.05,-1.0,0,2.5,0,3.0,0.1,3.5,0.1,4.0,0.15,4.5,0.1,5.0,0.15,5.5,0.2,6.0,0.25,6.5,0.2,7.0,0.3,7.3,0.5,7.6,0.4,8.0,0.3];
const SGZ_Sc_d=[-6,0.5,-5.8,0.4,-5.6,0.3,-5.4,0.4,-5.2,0.5,-5.0,0.6,-4.85,0.7,-4.7,1.1,-4.6,0.5,-4.5,0.8,-4.4,1.0,-4.3,1.3,-4.2,1.5,-4.1,2.0,-4.0,4.7,-3.92,3.0,-3.85,2.5,-3.75,1.8,-3.65,2.0,-3.5,2.5,-3.38,2.8,-3.25,3.7,-3.18,2.5,-3.1,1.8,-3.0,1.5,-2.85,1.4,-2.7,1.3,-2.55,1.5,-2.4,1.2,-2.25,1.1,-2.1,1.0,-1.95,0.7,-1.8,0.5,-1.6,0.3,-1.4,0.15,-1.2,0.05,-1.0,0,1.2,0,1.6,0.05,2.0,0.2,2.3,0.3,2.55,0.3,2.62,0.2,2.67,2.0,2.7,12.2,2.74,14.3,2.78,12.5,2.82,17.0,2.86,12.0,2.9,6.5,2.95,15,3.0,21.5,3.05,25,3.15,25,3.22,21.5,3.26,12.6,3.3,15,3.35,10,3.39,2.2,3.44,15,3.5,21.5,3.6,25,3.72,21.5,3.76,17.5,3.8,21.5,3.9,25,4.05,25,4.12,21.5,4.16,19.5,4.2,21.5,4.24,20,4.3,14,4.36,8,4.42,5,4.48,3,4.53,1.5,4.59,0.6,4.66,1.0,4.75,1.5,4.85,2.0,4.95,2.5,5.0,1.7,5.08,3.0,5.15,3.5,5.2,2.5,5.25,4.7,5.32,3.0,5.4,4.0,5.45,7.0,5.5,10,5.55,7.0,5.62,9.0,5.68,11.1,5.73,12,5.76,15,5.79,19.4,5.83,21.5,5.87,25,5.92,18,5.95,14.4,6.0,16,6.05,15.5,6.1,16,6.14,21.5,6.2,25,6.38,25,6.43,21.5,6.47,8,6.51,0.5,6.58,2.0,6.65,2.5,6.75,2.8,6.83,3.0,6.92,2.5,7.0,2.5,7.1,2.0,7.2,2.2,7.3,2.8,7.39,3.2,7.45,2.0,7.52,1.5,7.6,1.0,7.7,1.2,7.8,1.0,7.9,0.8,8.0,0.5];
const SGZ_Ga_s=[-6,0.35,-5.9,0.25,-5.8,0.41,-5.7,0.25,-5.6,0.3,-5.5,0.28,-5.4,0.2,-5.3,0.25,-5.2,0.22,-5.1,0.2,-5.0,0.15,-4.9,0.12,-4.8,0.1,-4.7,0.15,-4.6,0.05,-4.5,0.1,-4.4,0.1,-4.3,0.12,-4.2,0.12,-4.1,0.08,-4.0,0.1,-3.9,0.1,-3.8,0.1,-3.6,0.08,-3.4,0.07,-3.2,0.07,-3.0,0.06,-2.8,0.06,-2.5,0.05,-2.2,0.04,-2.0,0.04,-1.5,0.02,-1.0,0,1.2,0,1.5,0.02,1.8,0.1,1.95,0.25,2.05,0.3,2.11,0.33,2.2,0.28,2.3,0.2,2.4,0.1,2.5,0.03,2.6,0.02,2.7,0.05,2.8,0.5,2.88,0.3,2.96,0.55,3.05,0.35,3.12,0.6,3.2,0.4,3.28,0.55,3.36,0.3,3.45,0.45,3.55,0.6,3.62,0.8,3.68,1.48,3.74,0.4,3.82,0.25,3.9,0.45,4.0,0.6,4.1,0.7,4.18,0.9,4.27,1.16,4.35,0.9,4.43,0.6,4.52,0.3,4.6,0.15,4.68,0.3,4.76,0.5,4.84,0.6,4.92,0.7,4.99,0.87,5.05,0.5,5.15,0.4,5.26,0.9,5.33,0.6,5.39,0.6,5.47,0.9,5.55,0.7,5.62,0.8,5.7,0.9,5.76,0.99,5.85,0.9,5.95,0.5,6.05,0.7,6.15,0.9,6.25,1.0,6.32,1.1,6.4,0.7,6.47,0.5,6.54,0.05,6.62,0.3,6.7,0.5,6.78,0.6,6.86,0.8,6.93,0.9,6.99,1.2,7.05,0.9,7.12,1.0,7.2,1.69,7.26,1.0,7.33,1.5,7.39,2.4,7.43,1.4,7.47,0.7,7.55,0.3,7.62,0.5,7.7,0.4,7.78,0.3,7.86,0.2,7.93,0.15,8.0,0.1];
const SGZ_Ga_p=[-6,0.3,-5.9,0.25,-5.8,0.2,-5.7,0.25,-5.6,0.3,-5.5,0.2,-5.4,0.45,-5.33,0.62,-5.25,0.55,-5.15,0.55,-5.05,0.5,-4.95,0.55,-4.85,0.6,-4.79,0.7,-4.74,1.08,-4.68,0.6,-4.63,0.3,-4.6,0.05,-4.55,0.3,-4.48,0.45,-4.4,0.4,-4.32,0.55,-4.25,0.6,-4.18,0.45,-4.1,0.5,-4.03,0.45,-3.98,0.62,-3.9,0.45,-3.82,0.3,-3.72,0.2,-3.62,0.3,-3.55,0.35,-3.45,0.3,-3.35,0.4,-3.25,0.63,-3.18,0.4,-3.1,0.3,-3.0,0.25,-2.9,0.3,-2.77,0.4,-2.68,0.3,-2.6,0.25,-2.5,0.2,-2.4,0.22,-2.3,0.25,-2.2,0.15,-2.1,0.18,-2.0,0.2,-1.9,0.12,-1.8,0.1,-1.6,0.05,-1.3,0.02,-1.0,0,2.5,0,2.7,0.02,2.85,0.08,2.95,0.05,3.05,0.06,3.2,0.1,3.3,0.07,3.42,0.05,3.55,0.1,3.65,0.08,3.75,0.05,3.85,0.12,3.95,0.18,4.05,0.22,4.15,0.25,4.22,0.3,4.3,0.25,4.4,0.15,4.5,0.1,4.6,0.05,4.7,0.1,4.8,0.2,4.9,0.25,4.98,0.3,5.08,0.25,5.18,0.3,5.27,0.35,5.35,0.3,5.45,0.32,5.55,0.35,5.65,0.3,5.75,0.35,5.85,0.4,5.95,0.35,6.05,0.35,6.15,0.4,6.25,0.45,6.32,0.5,6.4,0.35,6.47,0.3,6.54,0.0,6.6,0.2,6.7,0.3,6.8,0.35,6.9,0.4,7.0,0.35,7.1,0.4,7.2,0.5,7.3,0.4,7.38,0.6,7.44,0.85,7.5,0.6,7.55,0.0,7.6,0.4,7.65,0.6,7.72,0.5,7.8,0.55,7.87,0.7,7.93,0.35,8.0,0.25];
const SGZ_Zn_s=[-6,0.5,-5.95,0.35,-5.88,0.5,-5.8,0.35,-5.72,0.3,-5.65,0.2,-5.58,0.4,-5.5,0.55,-5.46,0.86,-5.4,0.6,-5.35,0.55,-5.31,0.74,-5.25,0.55,-5.2,0.6,-5.12,0.45,-5.05,0.4,-4.98,0.3,-4.9,0.28,-4.82,0.25,-4.75,0.3,-4.68,0.25,-4.6,0.2,-4.52,0.15,-4.45,0.2,-4.36,0.25,-4.28,0.15,-4.2,0.12,-4.1,0.15,-4.02,0.25,-3.95,0.15,-3.85,0.1,-3.78,0.05,-3.7,0.15,-3.6,0.1,-3.5,0.08,-3.4,0.1,-3.25,0.15,-3.15,0.08,-3.0,0.07,-2.85,0.08,-2.7,0.07,-2.55,0.08,-2.4,0.07,-2.25,0.05,-2.1,0.06,-1.95,0.04,-1.8,0.03,-1.6,0.02,-1.4,0.02,-1.2,0,1.3,0,1.6,0.02,1.8,0.08,1.95,0.14,2.1,0.17,2.2,0.15,2.35,0.1,2.5,0.03,2.65,0.0,2.75,0.05,2.8,0.2,2.87,0.1,2.94,0.25,2.99,0.31,3.06,0.1,3.12,0.3,3.2,0.3,3.26,0.15,3.34,0.35,3.42,0.25,3.5,0.3,3.58,0.4,3.63,0.5,3.68,0.87,3.74,0.3,3.79,0.1,3.86,0.25,3.93,0.3,3.99,0.2,4.06,0.35,4.14,0.4,4.2,0.3,4.27,0.6,4.34,0.35,4.42,0.2,4.5,0.12,4.57,0.1,4.64,0.2,4.72,0.3,4.8,0.4,4.91,0.5,4.98,0.3,5.05,0.55,5.1,0.7,5.15,0.78,5.22,0.6,5.3,0.75,5.38,0.55,5.44,0.77,5.5,0.65,5.55,0.6,5.62,0.4,5.7,0.3,5.78,0.25,5.86,0.35,5.95,0.3,6.04,0.4,6.12,0.45,6.2,0.55,6.26,0.75,6.33,1.0,6.38,1.25,6.44,0.5,6.48,0.3,6.52,0.05,6.58,0.3,6.66,0.4,6.74,0.5,6.83,0.6,6.9,0.55,6.99,0.9,7.05,0.45,7.12,0.6,7.2,0.85,7.25,0.5,7.31,0.9,7.36,1.4,7.44,0.9,7.52,0.62,7.58,0.9,7.63,1.4,7.68,1.1,7.74,1.0,7.8,1.2,7.86,1.4,7.92,0.9,8.0,0.6];
const SGZ_Zn_p=[-6,0.15,-5.92,0.12,-5.85,0.12,-5.75,0.1,-5.65,0.13,-5.55,0.15,-5.45,0.2,-5.35,0.18,-5.25,0.18,-5.15,0.15,-5.05,0.17,-4.95,0.2,-4.87,0.15,-4.8,0.2,-4.74,0.26,-4.66,0.15,-4.6,0.0,-4.53,0.2,-4.45,0.2,-4.38,0.15,-4.3,0.25,-4.22,0.2,-4.15,0.3,-4.1,0.35,-4.02,0.32,-3.95,0.3,-3.87,0.25,-3.8,0.2,-3.72,0.25,-3.63,0.3,-3.55,0.3,-3.47,0.4,-3.38,0.45,-3.3,0.5,-3.25,0.58,-3.18,0.38,-3.1,0.4,-3.02,0.35,-2.94,0.4,-2.86,0.45,-2.78,0.4,-2.7,0.42,-2.62,0.45,-2.55,0.5,-2.48,0.51,-2.4,0.4,-2.32,0.35,-2.25,0.4,-2.17,0.35,-2.08,0.3,-2.0,0.3,-1.92,0.2,-1.85,0.25,-1.78,0.3,-1.7,0.25,-1.62,0.15,-1.55,0.12,-1.45,0.1,-1.35,0.08,-1.25,0.05,-1.15,0.02,-1.0,0,2.6,0,2.75,0.03,2.85,0.08,2.92,0.1,3.02,0.05,3.12,0.08,3.25,0.06,3.35,0.05,3.45,0.1,3.55,0.08,3.65,0.12,3.74,0.15,3.82,0.1,3.92,0.12,4.02,0.15,4.12,0.2,4.22,0.18,4.32,0.15,4.42,0.2,4.52,0.18,4.62,0.25,4.72,0.2,4.82,0.22,4.92,0.25,5.02,0.3,5.12,0.25,5.22,0.28,5.32,0.3,5.42,0.2,5.52,0.22,5.62,0.25,5.72,0.2,5.82,0.25,5.92,0.3,6.02,0.28,6.12,0.25,6.22,0.35,6.32,0.3,6.42,0.28,6.48,0.15,6.53,0.0,6.6,0.3,6.7,0.25,6.78,0.28,6.86,0.3,6.95,0.4,7.03,0.3,7.12,0.42,7.22,0.35,7.3,0.5,7.36,0.6,7.39,0.69,7.45,0.45,7.52,0.3,7.6,0.45,7.68,0.35,7.75,0.45,7.82,0.4,7.86,0.15,7.92,0.4,8.0,0.2];
const SGZ_O1=[-6,4,-5.95,5,-5.85,3,-5.75,4,-5.7,2,-5.6,4,-5.5,4,-5.45,4.5,-5.35,6,-5.25,4,-5.15,4.5,-5.08,5,-5.0,4,-4.92,5,-4.85,6,-4.78,4,-4.74,8.7,-4.67,5,-4.6,2,-4.52,5,-4.45,6,-4.37,8,-4.29,11,-4.22,10,-4.16,7.8,-4.08,12,-4.0,23.2,-3.95,12,-3.9,6.8,-3.82,9,-3.76,12.4,-3.7,10.6,-3.62,8,-3.52,6.4,-3.46,10,-3.41,14.3,-3.35,16,-3.25,24.6,-3.18,12.4,-3.1,10,-3.0,8.7,-2.92,11,-2.85,13.8,-2.77,17,-2.7,16,-2.66,16,-2.58,20,-2.5,24.8,-2.42,20,-2.37,18,-2.28,15.2,-2.18,21,-2.1,11.5,-1.97,12.4,-1.86,10.6,-1.73,12.6,-1.66,7.8,-1.57,5.4,-1.5,6.8,-1.41,3,-1.33,2,-1.28,1.2,-1.17,0,1.5,0,2.0,0.5,2.5,0.3,2.7,0.5,2.8,1.5,2.9,1.0,3.0,2.0,3.1,1.0,3.2,2.0,3.35,1.5,3.5,2.0,3.6,3.0,3.68,8.0,3.75,2.0,3.85,2.0,3.93,2.5,4.02,2.0,4.15,1.5,4.3,1.0,4.45,0.8,4.6,0.5,4.75,1.0,4.9,1.2,5.0,1.5,5.15,1.0,5.3,1.2,5.45,1.5,5.6,1.0,5.7,2.5,5.78,3.5,5.9,3.5,6.0,3.0,6.1,4.0,6.2,4.5,6.32,5.7,6.4,4.0,6.45,2.0,6.55,1.0,6.68,2.0,6.82,2.5,6.95,3.0,7.05,2.5,7.15,3.5,7.25,2.5,7.32,2.0,7.4,3.5,7.5,2.0,7.62,1.5,7.75,2.0,7.88,1.0,8.0,1.5];
const SGZ_O2=[-6,5,-5.95,6,-5.87,3,-5.78,5,-5.68,3,-5.6,5,-5.55,6.8,-5.45,6,-5.38,5.5,-5.3,6,-5.2,5,-5.1,5,-5.0,6.5,-4.9,4,-4.8,7,-4.74,10.1,-4.68,6,-4.6,1,-4.53,5,-4.45,7,-4.38,6,-4.3,5,-4.2,5,-4.1,4,-4.0,6,-3.92,3,-3.85,5,-3.78,7,-3.7,5,-3.62,3,-3.55,6,-3.47,10,-3.4,6,-3.32,10,-3.25,13.8,-3.18,9,-3.1,6,-3.02,8,-2.95,11,-2.87,13,-2.8,10,-2.72,12,-2.65,14,-2.55,13,-2.47,15,-2.37,18,-2.3,15,-2.22,13,-2.15,17,-2.08,18.5,-2.0,14,-1.92,11,-1.85,14,-1.78,18,-1.73,21.3,-1.67,12,-1.6,8,-1.53,10,-1.46,6,-1.38,5,-1.3,6,-1.25,6.8,-1.2,2,-1.12,0,1.5,0,2.0,0.5,2.4,0.3,2.7,0.5,2.8,1.0,2.9,0.5,3.0,1.5,3.15,1.0,3.3,1.5,3.42,2.0,3.55,1.5,3.68,3.0,3.75,2.0,3.85,2.0,4.0,2.5,4.12,1.5,4.25,2.0,4.38,1.5,4.5,1.5,4.65,1.8,4.8,2.0,4.95,2.5,5.1,2.0,5.22,2.0,5.35,2.5,5.48,2.0,5.62,2.5,5.75,1.5,5.88,2.0,6.0,2.5,6.12,3.0,6.22,2.0,6.3,3.5,6.4,2.0,6.48,1.5,6.6,2.0,6.72,2.5,6.85,3.0,6.98,2.5,7.1,3.0,7.22,3.5,7.3,5.0,7.39,7.5,7.47,5.0,7.55,4.0,7.65,3.5,7.75,3.0,7.85,2.0,7.92,2.5,8.0,1.5];

// ---------- STYLES & LAYOUT ----------
const W = 1358, H = 595;
const FONT = 'Liberation Sans, Arial, Helvetica, sans-serif';
const RED_DOT = {color:'#ff1a1a', width:1.8, dash:'1.6px,1.6px'};
const BLACK_THICK = {color:'#151515', width:2};
const BLACK_THIN = {color:'#151515', width:1};
const RED_FINE = {color:'#e8101a', width:1.2, dash:'2px,1px'};

const colBoxes = [[59,348],[391,679],[722,1011],[1054,1346]];
const rowEdges = [[37,160,283,406,529],[37,160,283,406,529],[37,160,283,406,529],[38,163,287,413,538]];

const tk = {
  r1:   {vals:[0,2,4,6], minor:2},
  r23a: {vals:[0,2], minor:1},
  r23b: {vals:[0,2], minor:1},
  r4:   {vals:[0,6,12,18,24,30], minor:3},
  sc:   {vals:[0,5,10,15,20], minor:2.5},
  ga4:  {vals:[0,1,2], minor:0.5},
  zn4:  {vals:[0,1], minor:0.5}
};

const cols = [
  {rows:[
    {label:'In', yr:[0,6.5], t:tk.r1, s:[{d:IGZ_In_s,st:RED_DOT,n:'s-states'},{d:IGZ_In_p,st:BLACK_THICK,n:'p-states'}]},
    {label:'Ga', yr:[0,2.5], t:tk.r23a, s:[{d:IGZ_Ga_s,st:RED_DOT,n:'s-states'},{d:IGZ_Ga_p,st:BLACK_THICK,n:'p-states'}]},
    {label:'Zn', yr:[0,2.5], t:tk.r23a, s:[{d:IGZ_Zn_s,st:RED_DOT,n:'s-states'},{d:IGZ_Zn_p,st:BLACK_THICK,n:'p-states'}]},
    {label:null, yr:[0,35.5], t:tk.r4, s:[{d:IGZ_O1,st:RED_DOT,n:'O1',m:'s,p-states'},{d:IGZ_O2,st:BLACK_THICK,n:'O2',m:'s,p-states'}]}
  ]},
  {rows:[
    {label:'In', yr:[0,6.5], t:tk.r1, s:[{d:IGC_In_s,st:RED_DOT,n:'s-states'},{d:IGC_In_p,st:BLACK_THICK,n:'p-states'}]},
    {label:'Ga', yr:[0,2.5], t:tk.r23a, s:[{d:IGC_Ga_s,st:RED_DOT,n:'s-states'},{d:IGC_Ga_p,st:BLACK_THICK,n:'p-states'}]},
    {label:'Ca', yr:[0,2.5], t:tk.r23a, s:[{d:IGC_Ca_s,st:RED_DOT,n:'s-states'},{d:IGC_Ca_d,st:BLACK_THICK,n:'d-states'}]},
    {label:null, yr:[0,35.5], t:tk.r4, s:[{d:IGC_O1,st:RED_DOT,n:'O1',m:'s,p-states'},{d:IGC_O2,st:BLACK_THICK,n:'O2',m:'s,p-states'}]}
  ]},
  {rows:[
    {label:'In', yr:[0,6.5], t:tk.r1, s:[{d:IAC_In_s,st:RED_DOT,n:'s-states'},{d:IAC_In_p,st:BLACK_THICK,n:'p-states'}]},
    {label:'Al', yr:[0,3.5], t:tk.r23b, labelDy:30, s:[{d:IAC_Al_s,st:RED_DOT,n:'s-states'},{d:IAC_Al_p,st:BLACK_THICK,n:'p-states'}]},
    {label:'Ca', yr:[0,3.5], t:tk.r23b, s:[{d:IAC_Ca_s,st:RED_DOT,n:'s-states'},{d:IAC_Ca_d,st:BLACK_THICK,n:'d-states'}]},
    {label:null, yr:[0,35.5], t:tk.r4, s:[{d:IAC_O1,st:RED_DOT,n:'O1',m:'s,p-states'},{d:IAC_O2,st:BLACK_THICK,n:'O2',m:'s,p-states'}]}
  ]},
  {rows:[
    {label:'Sc', yr:[0,20.8], t:tk.sc, s:[{d:SGZ_Sc_s,st:BLACK_THIN,n:'s-states'},{d:SGZ_Sc_d,st:RED_FINE,n:'d-states'}]},
    {label:'Ga', yr:[0,2.27], t:tk.ga4, s:[{d:SGZ_Ga_s,st:BLACK_THIN,n:'s-states'},{d:SGZ_Ga_p,st:RED_FINE,n:'p-states'}]},
    {label:'Zn', yr:[0,1.3], t:tk.zn4, s:[{d:SGZ_Zn_s,st:BLACK_THIN,n:'s-states'},{d:SGZ_Zn_p,st:RED_FINE,n:'p-states'}]},
    {label:null, yr:[0,35], t:tk.r4, s:[{d:SGZ_O1,st:BLACK_THIN,n:'O1',m:'s,p-states'},{d:SGZ_O2,st:RED_FINE,n:'O2',m:'s,p-states'}]}
  ]}
];

function unpack(a){ const x=[], y=[]; for(let i=0;i<a.length;i+=2){ x.push(a[i]); y.push(a[i+1]); } return {x,y}; }
const px = v => v / W, py = v => 1 - v / H;
const measureCtx = document.createElement('canvas').getContext('2d');
function textWidth(t, size){ measureCtx.font = size + 'px "Liberation Sans", Arial, sans-serif'; return measureCtx.measureText(t).width; }

const traces = [], layout = {
  width: W, height: H, margin:{l:0,r:0,t:0,b:0}, paper_bgcolor:'#fff', plot_bgcolor:'#fff',
  showlegend:false, font:{family:FONT, color:'#222'}, annotations:[], shapes:[]
};
const minorOut = step => ({dtick:step, tick0:0, ticks:'outside', ticklen:4, tickwidth:1, tickcolor:'#333', showgrid:false});
const minorIn = step => ({dtick:step, tick0:0, ticks:'inside', ticklen:4, tickwidth:1, tickcolor:'#333', showgrid:false});
const axLine = {showline:true, linecolor:'#333', linewidth:1.2, mirror:true, showgrid:false, zeroline:false, ticks:'outside', ticklen:4, tickwidth:1, tickcolor:'#333', tickfont:{family:FONT,size:13,color:'#222'}, fixedrange:true};
const ovLine = {showline:false, showgrid:false, zeroline:false, ticks:'inside', ticklen:4, tickwidth:1, tickcolor:'#333', showticklabels:false, fixedrange:true};
const ann = (x, y, text, size, extra) => Object.assign({xref:'paper', yref:'paper', x:px(x), y:py(y), xanchor:'left', yanchor:'middle', text, showarrow:false, font:{family:FONT, size, color:'#222'}}, extra || {});

cols.forEach((col, c) => {
  const [L, R] = colBoxes[c];
  const edges = rowEdges[c];
  col.rows.forEach((row, r) => {
    const n = c*4 + r + 1, m = n + 16;
    const xn = n===1 ? 'x' : 'x'+n, yn = n===1 ? 'y' : 'y'+n;
    const xk = n===1 ? 'xaxis' : 'xaxis'+n, yk = n===1 ? 'yaxis' : 'yaxis'+n;
    const T = edges[r], B = edges[r+1];
    layout[xk] = Object.assign({}, axLine, {domain:[px(L),px(R)], anchor:yn, range:[-6,8], tickmode:'array', tickvals:energyTicks, showticklabels: r===3, minor:minorOut(1)});
    layout[yk] = Object.assign({}, axLine, {domain:[py(B),py(T)], anchor:xn, range:row.yr, tickmode:'array', tickvals:row.t.vals, minor:minorOut(row.t.minor)});
    layout['xaxis'+m] = Object.assign({}, ovLine, {overlaying:xn, anchor:'y'+m, side:'top', range:[-6,8], tickmode:'array', tickvals:energyTicks, minor:minorIn(1)});
    layout['yaxis'+m] = Object.assign({}, ovLine, {overlaying:yn, anchor:'x'+m, side:'right', range:row.yr, tickmode:'array', tickvals:row.t.vals, minor:minorIn(row.t.minor)});
    traces.push({type:'scatter', mode:'lines', x:[], y:[], xaxis:'x'+m, yaxis:'y'+m, hoverinfo:'skip', showlegend:false});
    row.s.forEach(s => {
      const u = unpack(s.d);
      traces.push({type:'scatter', mode:'lines', x:u.x, y:u.y, xaxis:xn, yaxis:yn, line:Object.assign({simplify:false}, s.st), hoverinfo:'skip', name:s.n});
    });
    if (row.label) {
      const dy = row.labelDy || [16,25,23][r];
      layout.annotations.push(ann(L+18, T+dy, row.label, 15));
    }
    row.s.forEach((s, k) => {
      let x0, x1, xt, yy;
      if (r < 3) {
        x0 = L+41; x1 = L+68; xt = L+70;
        yy = T + (r===0 ? [13,27] : [17,31])[k];
        layout.annotations.push(ann(xt, yy, s.n, 11.5));
      } else {
        x0 = R-111; x1 = R-85; xt = R-83;
        yy = T + [20,36][k];
        layout.annotations.push(ann(xt, yy, s.n, 13));
        layout.annotations.push(ann(xt + textWidth(s.n + ' ', 13), yy + 0.5, s.m, 11.5));
      }
      layout.shapes.push({type:'line', xref:'paper', yref:'paper', x0:px(x0), x1:px(x1), y0:py(yy), y1:py(yy), line:Object.assign({}, s.st)});
    });
  });
  // column title: formula with subscript drawn as two texts
  const [main, sub] = compounds[c];
  const wMain = textWidth(main, 16), wSub = textWidth(sub, 11);
  const left = (L+R)/2 - (wMain + wSub)/2;
  layout.annotations.push(ann(left, 19, main, 16));
  layout.annotations.push(ann(left + wMain, 24, sub, 11));
  layout.annotations.push(ann((L+R)/2, 582, 'Energy (eV)', 16, {xanchor:'center'}));
});
layout.annotations.push(ann(19, 288, 'DOS (states/eV·cell)', 16, {xanchor:'center', textangle:-90}));

Plotly.newPlot('chart', traces, layout, {displayModeBar:false, staticPlot:true});
</script>
</body></html>
